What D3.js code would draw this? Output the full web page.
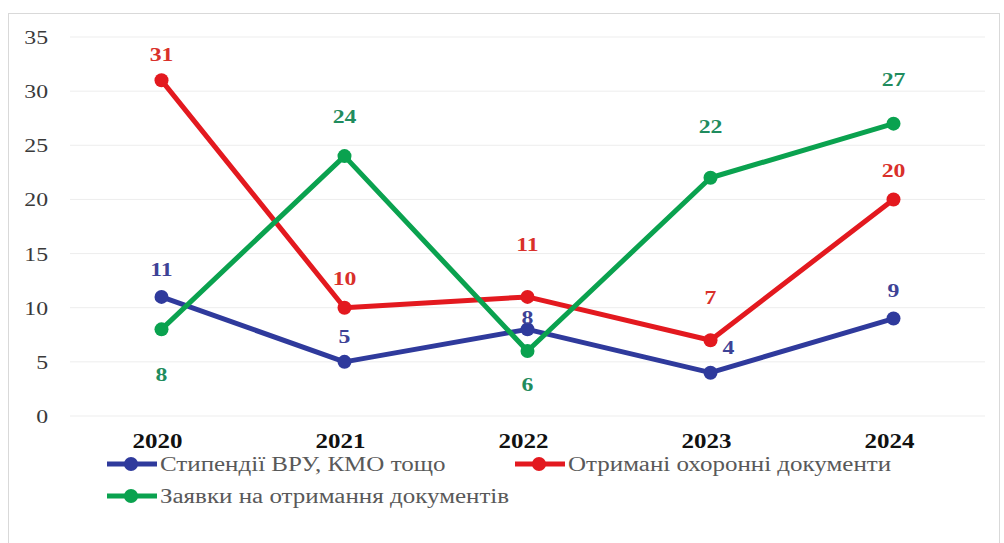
<!DOCTYPE html>
<html>
<head>
<meta charset="utf-8">
<script src="https://cdn.jsdelivr.net/npm/d3@7"></script>
<style>
  body { margin: 0; background: #fff; }
  svg { display: block; }
  svg text { font-family: "Liberation Serif", "DejaVu Serif", "Times New Roman", serif; }
</style>
</head>
<body>
<div id="chart"></div>
<script>
var years = ["2020", "2021", "2022", "2023", "2024"]
var stypendii = [11, 5, 8, 4, 9]
var okhoronni = [31, 10, 11, 7, 20]
var zaiavky = [8, 24, 6, 22, 27]
var yTicks = [0, 5, 10, 15, 20, 25, 30, 35]

var seriesNames = ["Стипендії ВРУ, КМО тощо", "Отримані охоронні документи", "Заявки на отримання документів"]

// label placement (dx, dy of label centre from its point)
var labelShift = [
  [[0, -28], [0, -26], [0, -12], [18, -25], [0, -28]],
  [[0, -26], [0, -29], [0, -53], [0, -43], [0, -29]],
  [[0, 45], [0, -40], [0, 33], [0, -51], [0, -44]]
]

var series = [
  { name: seriesNames[0], values: stypendii, color: "#2f3a9c", labelColor: "#3d4296" },
  { name: seriesNames[1], values: okhoronni, color: "#e3191f", labelColor: "#d9302a" },
  { name: seriesNames[2], values: zaiavky, color: "#0aa24f", labelColor: "#1f8c5e" }
]

// the source picture is stretched sideways, text included
var STRETCH = 1.25
function stretch(sel) {
  sel.each(function() {
    var w = this.getComputedTextLength()
    d3.select(this).attr("textLength", w * STRETCH).attr("lengthAdjust", "spacingAndGlyphs")
  })
}

var width = 1004, height = 543
var svg = d3.select("#chart").append("svg")
  .attr("width", width)
  .attr("height", height)

// outer frame
svg.append("rect")
  .attr("x", 8.5).attr("y", 13.5)
  .attr("width", 991).attr("height", 535)
  .attr("fill", "#fff")
  .attr("stroke", "#d9d9d9")

var x = d3.scaleBand().domain(years).range([70, 985])
var y = d3.scaleLinear().domain([0, 35]).range([416, 37])
var cx = function(i) { return x(years[i]) + x.bandwidth() / 2 }

// gridlines
svg.append("g").selectAll("line").data(yTicks).enter().append("line")
  .attr("x1", 70).attr("x2", 985)
  .attr("y1", d => y(d)).attr("y2", d => y(d))
  .attr("stroke", "#ededed").attr("stroke-width", 1)

var yAxis = svg.append("g")
  .attr("transform", "translate(48,0)")
  .call(d3.axisLeft(y).tickValues(yTicks).tickSize(0).tickPadding(0))
yAxis.select(".domain").remove()
yAxis.attr("font-family", null)
yAxis.selectAll("text")
  .attr("font-size", 19).attr("fill", "#3a3a3a").attr("dy", "0.34em")
  .call(stretch)

var xAxis = svg.append("g")
  .attr("transform", "translate(-4,0)")
  .call(d3.axisBottom(x).tickSize(0).tickPadding(0))
xAxis.select(".domain").remove()
xAxis.attr("font-family", null)
xAxis.selectAll("text")
  .attr("y", 441).attr("dy", "0.35em")
  .attr("font-size", 20).attr("font-weight", "bold").attr("fill", "#111")
  .call(stretch)

var line = d3.line()
  .x((d, i) => cx(i))
  .y(d => y(d))

var order = [1, 0, 2]
order.forEach(function(k) {
  var s = series[k]
  var g = svg.append("g")
  g.append("path")
    .datum(s.values)
    .attr("d", line)
    .attr("fill", "none")
    .attr("stroke", s.color)
    .attr("stroke-width", 5)
    .attr("stroke-linejoin", "round")
  g.selectAll("circle").data(s.values).enter().append("circle")
    .attr("cx", (d, i) => cx(i))
    .attr("cy", d => y(d))
    .attr("r", 7)
    .attr("fill", s.color)
})

// data labels
series.forEach(function(s, k) {
  svg.append("g").selectAll("text").data(s.values).enter().append("text")
    .attr("x", (d, i) => cx(i) + labelShift[k][i][0])
    .attr("y", (d, i) => y(d) + labelShift[k][i][1])
    .attr("dy", "0.35em")
    .attr("text-anchor", "middle")
    .attr("font-size", 19)
    .attr("font-weight", "bold")
    .attr("fill", s.labelColor)
    .text(d => d)
    .call(stretch)
})

// legend
var legendItems = [
  { s: series[0], x: 107, y: 464 },
  { s: series[1], x: 515, y: 464 },
  { s: series[2], x: 107, y: 496 }
]
var lg = svg.append("g").selectAll("g").data(legendItems).enter().append("g")
  .attr("transform", d => "translate(" + d.x + "," + d.y + ")")
lg.append("line")
  .attr("x1", 0).attr("x2", 50).attr("y1", 0).attr("y2", 0)
  .attr("stroke", d => d.s.color).attr("stroke-width", 5)
lg.append("circle")
  .attr("cx", 24).attr("cy", 0).attr("r", 7)
  .attr("fill", d => d.s.color)
lg.append("text")
  .attr("x", 53).attr("y", 0).attr("dy", "0.35em")
  .attr("font-size", 20)
  .attr("fill", "#595959")
  .text(d => d.s.name)
  .call(stretch)
</script>
</body>
</html>
